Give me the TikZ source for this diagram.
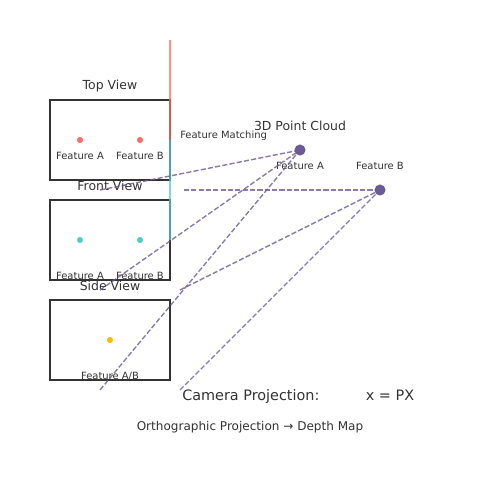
\documentclass[tikz,border=0pt]{standalone}
\usepackage{fontspec}
\setmainfont{DejaVu Sans}
\definecolor{txt}{HTML}{333333}
\definecolor{fred}{HTML}{FF6B6B}
\definecolor{fteal}{HTML}{4ECDC4}
\definecolor{fyel}{HTML}{FFB900}
\definecolor{fpur}{HTML}{6B5B95}
\begin{document}
\begin{tikzpicture}[x=0.01in,y=-0.01in,
  viewbox/.style={draw=txt,line width=1.5pt},
  lbl/.style={text=txt,inner sep=0pt,font=\fontsize{7.2}{8}\selectfont},
  ttl/.style={text=txt,inner sep=0pt,font=\fontsize{9}{10}\selectfont},
  proj/.style={draw=fpur,opacity=0.8,line width=1pt,dash pattern=on 3.7pt off 1.6pt},
  match/.style={line width=1.1pt,opacity=0.75}]
\useasboundingbox (0,0) rectangle (500,500);
% boxes
\draw[viewbox] (50,100) rectangle (170,180);
\draw[viewbox] (50,200) rectangle (170,280);
\draw[viewbox] (50,300) rectangle (170,380);
% matching lines
\coordinate (m0) at (170,40);
\coordinate (m1) at (170,140);
\coordinate (m2) at (170,240);
\draw[match,draw=fred] (m0) -- (m1);
\draw[match,draw=fteal] (m1) -- (m2);
% titles
\node[ttl] (tv) at (110,86) {Top View};
\node[ttl] (fv) at (110,186) {Front View};
\node[ttl] (sv) at (110,286) {Side View};
% feature dots
\fill[fred] (80,140) circle (2.2pt) coordinate (ta);
\fill[fred] (140,140) circle (2.2pt) coordinate (tb);
\fill[fteal] (80,240) circle (2.2pt) coordinate (fa);
\fill[fteal] (140,240) circle (2.2pt) coordinate (fb);
\fill[fyel] (110,340) circle (2.2pt) coordinate (sab);
\node[lbl] (lta) at (80,156) {Feature A};
\node[lbl] (ltb) at (140,156) {Feature B};
\node[lbl] (lfa) at (80,276) {Feature A};
\node[lbl] (lfb) at (140,276) {Feature B};
\node[lbl] (lsab) at (110,376) {Feature A/B};
\node[lbl,anchor=west] (fm) at (180,136) {Feature Matching};
% 3D points
\node[ttl] (pc) at (300,126) {3D Point Cloud};
\node[circle,fill=fpur,inner sep=0pt,minimum size=8pt] (pa) at (300,150) {};
\node[circle,fill=fpur,inner sep=0pt,minimum size=8pt] (pb) at (380,190) {};
\node[lbl] (lpa) at (300,166) {Feature A};
\node[lbl] (lpb) at (380,166) {Feature B};
% projection lines
\coordinate (s1) at (100,190);
\coordinate (s2) at (100,290);
\coordinate (s3) at (100,390);
\coordinate (r1) at (184,190);
\coordinate (r2) at (180,290);
\coordinate (r3) at (180,390);
\draw[proj] (s1) -- (pa.center);
\draw[proj] (s2) -- (pa.center);
\draw[proj] (s3) -- (pa.center);
\draw[proj] (r1) -- (pb.center);
\draw[proj] (r2) -- (pb.center);
\draw[proj] (r3) -- (pb.center);
% bottom text
\node[text=txt,inner sep=0pt,anchor=base west,font=\fontsize{10.4}{12}\selectfont] (cp) at (182,400) {Camera Projection:};
\node[text=txt,inner sep=0pt,anchor=base,font=\fontsize{10.4}{12}\selectfont] (eq) at (390,400) {x = PX};
\node[text=txt,inner sep=0pt,anchor=base,font=\fontsize{8.7}{10}\selectfont] (op) at (250,430) {Orthographic Projection → Depth Map};
\end{tikzpicture}
\end{document}
